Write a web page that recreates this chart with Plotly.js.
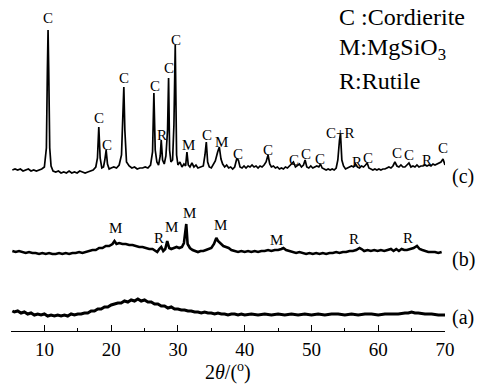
<!DOCTYPE html>
<html><head><meta charset="utf-8">
<script src="https://cdn.plot.ly/plotly-3.0.1.min.js"></script>
<style>html,body{margin:0;padding:0;background:#fff}#chart{width:480px;height:388px}</style>
</head><body><div id="chart"></div>
<script>
// XRD patterns: [2theta, intensity above each pattern's own baseline]
const patternC = [
[5.2,0],[5.6,1],[6.0,0],[6.4,1],[6.8,-1],[7.2,0],[7.6,1],[8.0,-1],[8.4,0],[8.8,-1],[9.2,0],[9.6,1],
[10.0,3],[10.3,22],[10.45,100],[10.55,140],[10.65,100],[10.8,22],[11.0,4],[11.3,-1],[11.7,-2],[12.1,-1],
[12.5,-3],[12.9,-2],[13.3,-3],[13.7,-1],[14.1,-3],[14.5,-2],[14.9,-3],[15.3,-1],[15.7,-2],[16.1,-3],
[16.5,-2],[16.9,-1],[17.3,0],[17.7,3],[17.95,12],[18.15,43],[18.35,12],[18.6,2],[18.85,3],[19.05,10],
[19.25,20],[19.45,6],[19.7,1],[20.0,2],[20.4,3],[20.8,2],[21.2,5],[21.55,15],[21.75,50],[21.9,83],
[22.05,40],[22.3,8],[22.7,4],[23.1,2],[23.5,3],[23.9,1],[24.3,2],[24.7,2],[25.1,3],[25.5,2],[25.9,5],
[26.2,18],[26.4,77],[26.6,20],[26.85,8],[27.1,5],[27.35,14],[27.5,30],[27.7,10],[27.95,6],[28.2,14],
[28.45,40],[28.6,92],[28.75,20],[28.95,8],[29.2,10],[29.4,45],[29.6,125],[29.8,15],[30.0,5],[30.3,8],
[30.6,3],[30.9,6],[31.15,4],[31.35,18],[31.55,5],[31.8,3],[32.1,7],[32.4,3],[32.7,5],[33.0,2],[33.4,3],
[33.8,4],[34.05,15],[34.25,28],[34.45,8],[34.7,3],[35.0,2],[35.3,5],[35.6,9],[35.95,18],[36.2,23],
[36.45,11],[36.7,6],[37.0,3],[37.3,5],[37.6,2],[37.9,3],[38.2,1],[38.5,3],[38.8,11],[39.05,10],[39.3,3],
[39.6,2],[39.9,4],[40.2,2],[40.5,4],[40.8,3],[41.1,5],[41.4,3],[41.7,4],[42.0,2],[42.3,4],[42.6,3],
[42.9,5],[43.2,8],[43.5,15],[43.75,6],[44.0,3],[44.3,4],[44.6,2],[44.9,3],[45.2,1],[45.5,2],[45.8,1],
[46.1,3],[46.4,2],[46.7,4],[47.0,5],[47.3,8],[47.6,3],[47.9,5],[48.2,6],[48.5,3],[48.8,5],[49.05,10],
[49.3,3],[49.6,2],[49.9,4],[50.2,2],[50.5,3],[50.8,4],[51.1,3],[51.35,6],[51.6,2],[51.9,1],[52.2,0],
[52.5,1],[52.8,0],[53.1,1],[53.4,0],[53.7,2],[53.95,10],[54.2,30],[54.35,36],[54.55,10],[54.8,4],
[55.1,1],[55.4,2],[55.7,3],[56.0,4],[56.3,3],[56.6,6],[56.9,3],[57.2,2],[57.5,4],[57.8,3],[58.1,5],
[58.35,7],[58.6,2],[58.9,1],[59.2,0],[59.5,1],[59.8,0],[60.1,1],[60.4,0],[60.7,1],[61.0,1],[61.3,2],
[61.6,3],[61.9,2],[62.2,4],[62.5,8],[62.8,4],[63.1,3],[63.4,5],[63.7,3],[64.0,3],[64.3,5],[64.6,7],
[64.9,3],[65.2,4],[65.5,3],[65.8,5],[66.1,3],[66.4,4],[66.7,4],[67.0,5],[67.3,4],[67.6,5],[67.9,4],
[68.2,6],[68.5,5],[68.8,6],[69.1,7],[69.4,8],[69.7,11],[69.9,6],[70.0,5]
];
const patternB = [
[5.2,1],[5.7,0],[6.2,1],[6.7,0],[7.2,-1],[7.7,0],[8.2,-1],[8.7,-1],[9.2,-2],[9.7,-1],[10.2,-2],[10.7,-1],
[11.2,-2],[11.7,-2],[12.2,-1],[12.7,-2],[13.2,-1],[13.7,-2],[14.2,-1],[14.7,-1],[15.2,0],[15.7,-1],
[16.2,0],[16.7,1],[17.2,2],[17.7,2],[18.2,4],[18.7,4],[19.2,6],[19.7,6],[20.2,8],[20.5,11],[20.8,8],
[21.2,9],[21.7,8],[22.2,8],[22.7,7],[23.2,7],[23.7,6],[24.2,5],[24.7,5],[25.2,4],[25.7,3],[26.2,3],
[26.6,1],[26.9,0],[27.2,3],[27.5,5],[27.8,1],[28.1,3],[28.4,11],[28.7,4],[29.0,3],[29.4,4],[29.8,5],
[30.2,4],[30.6,5],[30.9,9],[31.1,18],[31.25,28],[31.45,8],[31.8,4],[32.2,2],[32.6,1],[33.0,0],[33.4,1],
[33.8,1],[34.2,2],[34.6,3],[35.0,4],[35.4,8],[35.75,14],[36.0,11],[36.4,8],[36.8,6],[37.2,5],[37.6,4],
[38.0,2],[38.5,1],[39.0,0],[39.5,1],[40.0,0],[40.5,1],[41.0,0],[41.5,1],[42.0,0],[42.5,1],[43.0,1],
[43.5,2],[44.0,1],[44.5,2],[45.0,2],[45.5,3],[45.8,4],[46.2,2],[46.7,1],[47.2,0],[47.7,-1],[48.2,0],
[48.7,-1],[49.2,-2],[49.7,-1],[50.2,-2],[50.7,-1],[51.2,-2],[51.7,-1],[52.2,-2],[52.7,-1],[53.2,-1],
[53.7,0],[54.2,-1],[54.7,0],[55.2,0],[55.7,1],[56.2,1],[56.7,2],[57.2,4],[57.5,3],[57.9,1],[58.4,2],
[58.9,1],[59.4,2],[59.9,1],[60.4,2],[60.9,1],[61.4,2],[61.9,3],[62.3,1],[62.7,3],[63.1,1],[63.5,3],
[63.9,2],[64.3,2],[64.8,3],[65.3,4],[65.8,6],[66.2,3],[66.6,2],[67.0,1],[67.5,0],[68.0,0],[68.5,0],
[69.0,-1],[69.5,0]
];
const patternA = [
[5.2,4],[5.5,3],[6,4],[6.5,2],[7,3],[7.5,1],[8,2],[8.5,0],[9,1],[9.5,0],[10,1],[10.5,-1],[11,0],[11.5,-1],
[12,0],[12.5,-1],[13,0],[13.5,-1],[14,1],[14.5,0],[15,1],[15.5,1],[16,2],[16.5,2],[17,4],[17.5,4],[18,6],
[18.5,6],[19,8],[19.5,8],[20,10],[20.5,11],[21,12],[21.5,12],[22,14],[22.5,13],[23,15],[23.5,14],[24,16],
[24.5,14],[25,15],[25.5,13],[26,13],[26.5,11],[27,11],[27.5,9],[28,9],[28.5,7],[29,8],[29.5,6],[30,6],
[30.5,5],[31,5],[31.5,4],[32,4],[32.5,3],[33,3],[33.5,2],[34,3],[34.5,2],[35,2],[35.5,1],[36,2],[36.5,1],
[37,1],[37.5,0],[38,1],[38.5,1],[39,0],[39.5,1],[40,0],[41,1],[42,0],[43,1],[44,0],[45,1],[46,0],[47,1],
[48,0],[49,1],[50,0],[51,1],[52,0],[53,1],[54,1],[55,0],[56,1],[57,0],[58,1],[59,1],[60,0],[61,1],[62,1],
[63,1],[64,2],[64.5,2],[65,3],[65.5,2],[66,2],[67,1],[68,1],[69,0],[70,0]
];
// Peak labels
const labelsC = ["C","C","C","C","C","R","C","C","M","C","M","C","C","C","C","C","C+R","R","C","C","C","R","C"];
const labelsCx = [10.5,18.2,19.4,21.9,26.6,27.6,28.7,29.7,31.6,34.3,36.5,39.0,43.5,47.4,49.2,51.3,54.2,56.8,58.5,62.8,64.6,67.3,69.7];
const labelsCy = [152,52,25,92,84,35,102,130,25,35,28,16,20,10,16,11,37,8,12,17,15,10,22];
const labelsB = ["M","R","M","M","M","M","R","R"];
const labelsBx = [20.7,27.2,29.0,31.8,36.4,44.8,56.3,64.5];
const labelsBy = [24,14,25,39,27,12,13,14];
const sampleNames = ["(c)","(b)","(a)"];
const legendLines = ["C :Cordierite","M:MgSiO<sub>3</sub>","R:Rutile"];
const tickVals = [10,20,30,40,50,60,70];

const OFF_C = 161, OFF_B = 79, OFF_A = 16;
const serif = "Times New Roman, Liberation Serif, serif";
function tr(p, off, w){
  return {x:p.map(d=>d[0]), y:p.map(d=>d[1]+off), type:'scatter', mode:'lines',
    line:{color:'#000', width:w}, hoverinfo:'skip', showlegend:false};
}
const data = [tr(patternC,OFF_C,1.7), tr(patternB,OFF_B,2.6), tr(patternA,OFF_A,3)];
const ann = [];
labelsC.forEach((t,i)=>ann.push({x:labelsCx[i], y:labelsCy[i]+OFF_C, text:t, showarrow:false,
  xanchor:'center', yanchor:'middle', font:{family:serif,size:15,color:'#000'}}));
labelsB.forEach((t,i)=>ann.push({x:labelsBx[i], y:labelsBy[i]+OFF_B, text:t, showarrow:false,
  xanchor:'center', yanchor:'middle', font:{family:serif,size:15,color:'#000'}}));
const nameY = [155,72,14];
sampleNames.forEach((t,i)=>ann.push({xref:'paper', x:1.042, y:nameY[i], text:t, showarrow:false,
  xanchor:'center', yanchor:'middle', font:{family:serif,size:20,color:'#000'}}));
const legY = [314,282,250];
legendLines.forEach((t,i)=>ann.push({x:53.8, y:legY[i], text:t, showarrow:false,
  xanchor:'left', yanchor:'middle', font:{family:serif,size:24,color:'#000'}}));
ann.push({xref:'paper', yref:'paper', x:0.5, y:-0.125, text:"2<i>θ</i>/(<sup>o</sup>)", showarrow:false,
  xanchor:'center', yanchor:'middle', font:{family:serif,size:20,color:'#000'}});

const layout = {
  width:480, height:388, margin:{l:11, r:35, t:10, b:57},
  paper_bgcolor:'#fff', plot_bgcolor:'#fff',
  font:{family:serif, color:'#000'},
  xaxis:{range:[5,70], showline:true, linecolor:'#000', linewidth:1, showgrid:false, zeroline:false,
    tickmode:'array', tickvals:tickVals, ticks:'inside', ticklen:6, tickwidth:1, tickcolor:'#000',
    minor:{dtick:5, tick0:5, ticks:'inside', ticklen:3, tickcolor:'#000', showgrid:false},
    tickfont:{family:serif, size:19, color:'#000'}, ticklabelstandoff:1},
  yaxis:{range:[0,321], visible:false},
  annotations:ann
};
Plotly.newPlot('chart', data, layout, {displayModeBar:false, staticPlot:true});
</script></body></html>
